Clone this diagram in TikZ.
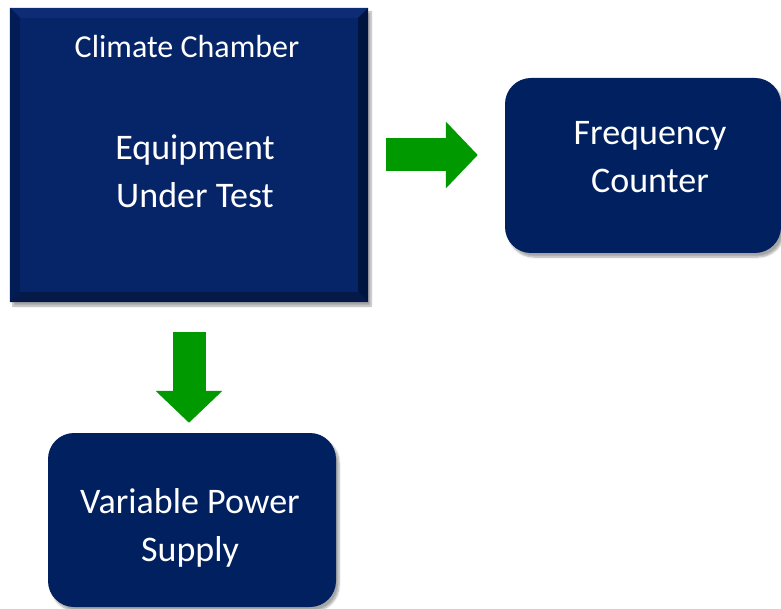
\documentclass[tikz,border=0pt]{standalone}
\usepackage{fontspec}
\setmainfont{Carlito}
\usetikzlibrary{calc,arrows.meta,shadows.blur}
\definecolor{azul}{RGB}{0,32,96}
\definecolor{cara}{RGB}{6,36,104}
\definecolor{bisel1}{RGB}{14,44,118}
\definecolor{bisel2}{RGB}{2,28,86}
\definecolor{bisel3}{RGB}{0,20,64}
\definecolor{bisel4}{RGB}{6,26,74}
\definecolor{verde}{RGB}{0,153,0}

\begin{document}
\begin{tikzpicture}[x=1pt,y=-1pt,
  sombra/.style={blur shadow={shadow xshift=3pt,shadow yshift=-4pt,shadow blur steps=6,shadow opacity=35}},
  caja/.style={fill=azul,inner sep=0pt,rounded corners=26pt,sombra},
  texto/.style={text=white,align=center,font=\fontsize{36}{48}\selectfont},
  flecha/.style={draw=verde,line width=33pt,-{Triangle[length=32pt,width=65pt]}}]
% Banco de prueba: camara climatica, contador y fuente
\useasboundingbox (0,0) rectangle (781,609);
\node[fill=cara,inner sep=0pt,minimum width=358pt,minimum height=294pt,sombra] (camara) at (189,155) {};
\fill[bisel1] (camara.north west) -- (camara.north east) -- ($(camara.north east)+(-10,10)$) -- ($(camara.north west)+(10,10)$) -- cycle;
\fill[bisel2] (camara.north west) -- ($(camara.north west)+(10,10)$) -- ($(camara.south west)+(10,-10)$) -- (camara.south west) -- cycle;
\fill[bisel3] (camara.north east) -- (camara.south east) -- ($(camara.south east)+(-10,-10)$) -- ($(camara.north east)+(-10,10)$) -- cycle;
\fill[bisel4] (camara.south west) -- ($(camara.south west)+(10,-10)$) -- ($(camara.south east)+(-10,-10)$) -- (camara.south east) -- cycle;
\node[texto,font=\fontsize{32}{38}\selectfont] (camaralabel) at (187,47) {Climate Chamber};
\node[texto] (eut) at (195,171) {Equipment\\Under Test};
\node[caja,minimum width=276pt,minimum height=175pt] (contador) at (643,165.5) {};
\node[texto] (contadorlabel) at ([shift={(7,-8)}]contador.center) {Frequency\\Counter};
\node[caja,minimum width=288pt,minimum height=174pt] (fuente) at (192,520) {};
\node[texto] (fuentelabel) at ([shift={(-2,8)}]fuente.center) {Variable Power\\Supply};
\draw[flecha] ([xshift=18pt]camara.east) -- ([xshift=-27pt]camara.east -| contador.west);
\draw[flecha] ([yshift=-30pt]camara.south) -- ([yshift=10pt]camara.south |- fuente.north);
\end{tikzpicture}
\end{document}
